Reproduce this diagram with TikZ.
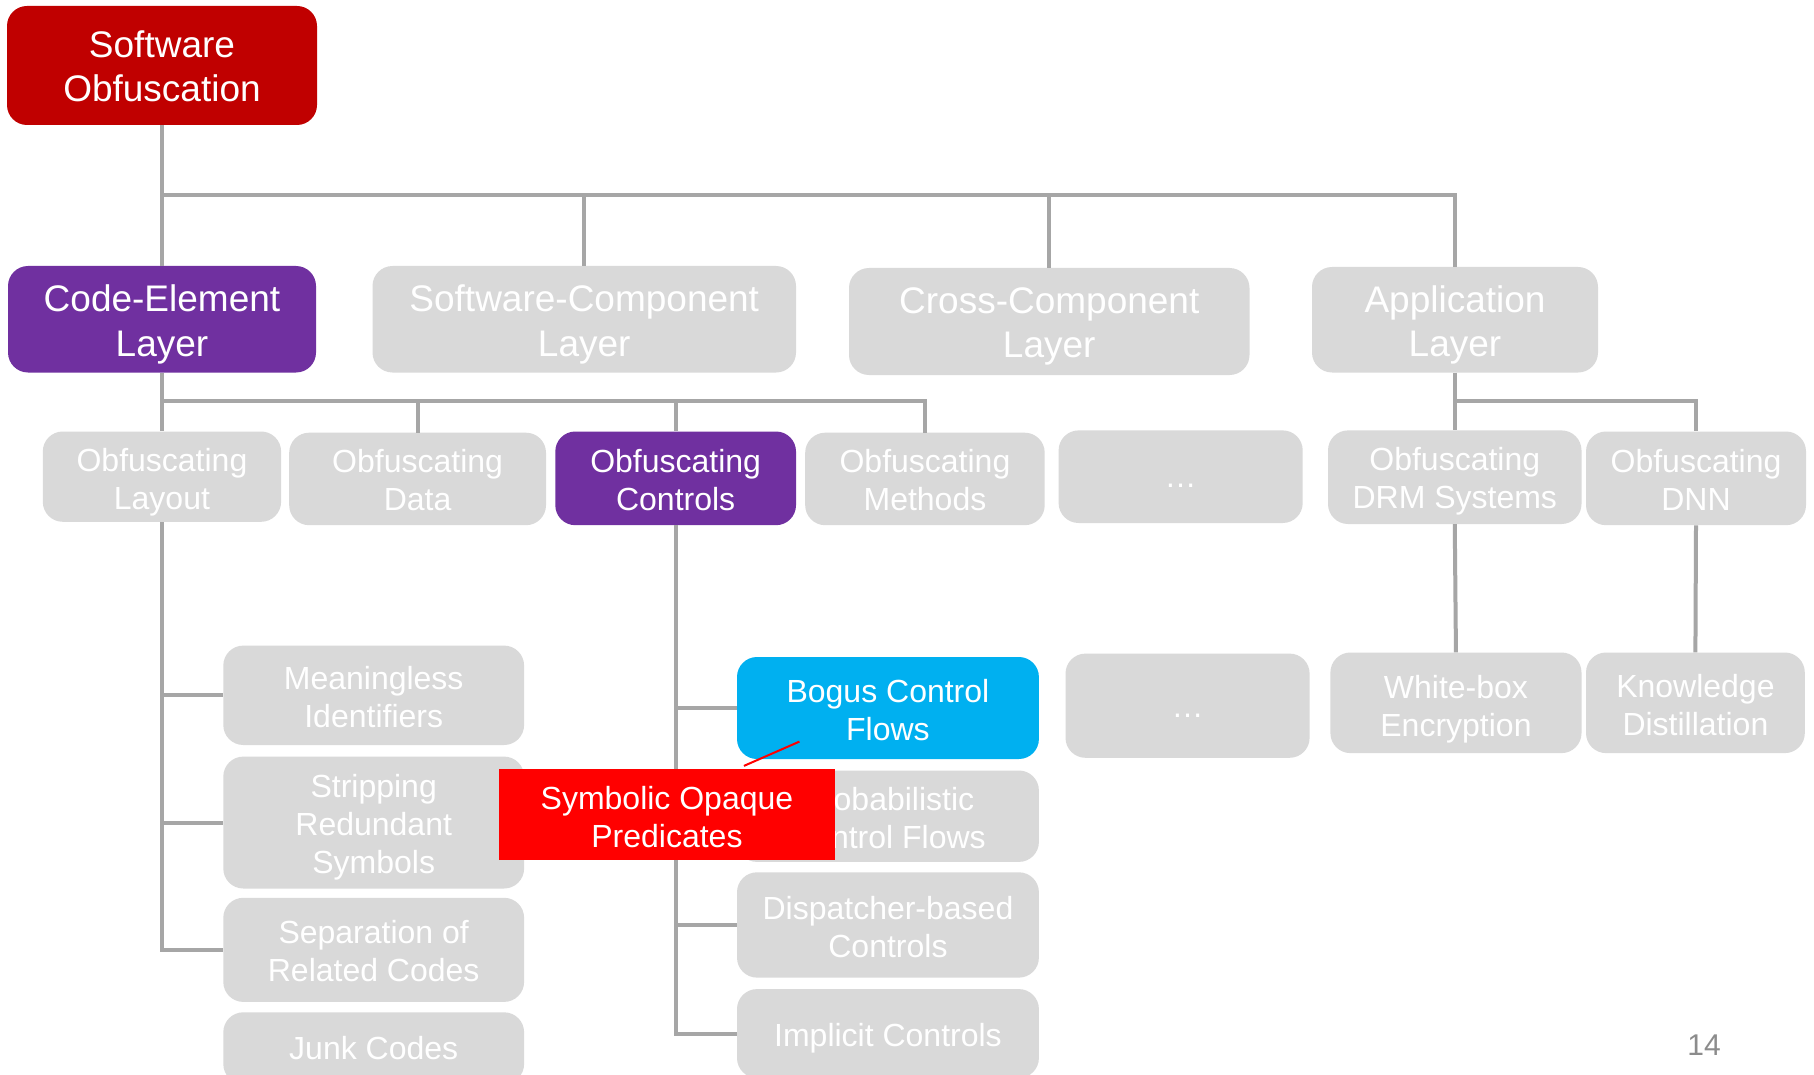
\documentclass[tikz,border=0pt]{standalone}
\usepackage{fontspec}
\setmainfont{Liberation Sans}
\definecolor{rootred}{HTML}{C00000}
\definecolor{purp}{HTML}{7030A0}
\definecolor{boxgray}{HTML}{D9D9D9}
\definecolor{linegray}{HTML}{A6A6A6}
\definecolor{cyanbox}{HTML}{00B0F0}
\definecolor{brightred}{HTML}{FF0000}
\definecolor{numgray}{HTML}{8C8C8C}
\tikzset{
  box/.style={rectangle, rounded corners=20pt, inner sep=0pt, fill=boxgray},
  big/.style={font=\fontsize{37}{44.5}\selectfont},
  small/.style={font=\fontsize{32}{38}\selectfont},
  conn/.style={draw=linegray, line width=4pt},
}
\newcommand{\bx}[9]{% name, style, x1, y1, x2, y2, fontstyle, text shift, text
  \node[box, #2, minimum width={(#5)-(#3)}, minimum height={(#6)-(#4)},
    label={[#7, text=white, align=center, inner sep=0pt, yshift=-#8pt]center:{#9}}]
    (#1) at ({((#3)+(#5))/2},{((#4)+(#6))/2}) {};}
\begin{document}
\begin{tikzpicture}[x=1pt,y=-1pt]
\fill[white] (0,0) rectangle (1814,1075);
\useasboundingbox (0,0) rectangle (1814,1075);
\clip (0,0) rectangle (1814,1075);
\coordinate (b1) at (0,195.5);
\coordinate (b2) at (0,401.4);
% root
\bx{root}{fill=rootred}{7}{6}{317}{125}{big}{1}{Software\\Obfuscation}
% level 1
\bx{codeel}{fill=purp}{8}{266}{316}{372.5}{big}{5}{Code-Element\\Layer}
\bx{softcomp}{}{372.5}{266}{796}{372.5}{big}{5}{Software-Component\\Layer}
\bx{crosscomp}{}{849}{268}{1249.5}{375}{big}{5}{Cross-Component\\Layer}
\bx{app}{}{1312}{267}{1598}{372.5}{big}{5}{Application\\Layer}
% level 2
\bx{layout}{}{42.8}{431.5}{281.1}{521.8}{small}{6}{Obfuscating\\Layout}
\bx{data}{}{289.2}{432.7}{546}{525.2}{small}{1.5}{Obfuscating\\Data}
\bx{controls}{fill=purp}{555.3}{431.5}{796}{525.2}{small}{2}{Obfuscating\\Controls}
\bx{methods}{}{805.2}{432.7}{1044.7}{525.2}{small}{1.5}{Obfuscating\\Methods}
\bx{dotsA}{}{1058.6}{430.4}{1302.7}{523}{small}{9}{\dots}
\bx{drm}{}{1328}{430.4}{1581.5}{524}{small}{4}{Obfuscating\\DRM Systems}
\bx{dnn}{}{1586}{431.5}{1806}{525.2}{small}{2}{Obfuscating\\DNN}
% level 3 right
\bx{dotsB}{}{1065.5}{653.6}{1309.6}{757.8}{small}{10}{\dots}
\bx{whitebox}{}{1330.4}{652.5}{1581.5}{753.1}{small}{6}{White-box\\Encryption}
\bx{knowledge}{}{1586}{652.5}{1804.8}{753.1}{small}{2}{Knowledge\\Distillation}
% layout children
\bx{meaning}{}{223.3}{645.6}{524.1}{745}{small}{2}{Meaningless\\Identifiers}
\bx{strip}{}{223.3}{756.6}{524.1}{888.5}{small}{5}{Stripping\\Redundant\\Symbols}
\bx{separ}{}{223.3}{897.8}{524.1}{1001.9}{small}{1}{Separation of\\Related Codes}
\bx{junk}{}{223.3}{1012.3}{524.1}{1084}{small}{0}{Junk Codes}
% controls children
\bx{bogus}{fill=cyanbox}{737}{657}{1038.9}{759}{small}{2}{Bogus Control\\Flows}
\bx{prob}{}{737}{770.5}{1038.9}{861.9}{small}{2}{Probabilistic\\Control Flows}
\bx{disp}{}{737}{872.3}{1038.9}{977.6}{small}{2}{Dispatcher-based\\Controls}
\bx{impl}{}{737}{989.1}{1038.9}{1078}{small}{5}{Implicit Controls}
% connectors
\draw[conn] (root.south) -- (root.south |- b1) -| (app.north);
\draw[conn] (codeel.north |- b1) -- (codeel.north);
\draw[conn] (softcomp.north |- b1) -- (softcomp.north);
\draw[conn] (crosscomp.north |- b1) -- (crosscomp.north);
\draw[conn] (codeel.south) -- (codeel.south |- b2) -| (methods.north);
\draw[conn] (layout.north |- b2) -- (layout.north);
\draw[conn] (data.north |- b2) -- (data.north);
\draw[conn] (controls.north |- b2) -- (controls.north);
\draw[conn] (app.south) -- (app.south |- b2) -| (dnn.north);
\draw[conn] (drm.north |- b2) -- (drm.north);
\draw[conn] (drm.south) -- (whitebox.north);
\draw[conn] (dnn.south) -- (knowledge.north);
\draw[conn] (layout.south) |- (separ.west);
\draw[conn] (layout.south |- meaning.west) -- (meaning.west);
\draw[conn] (layout.south |- strip.west) -- (strip.west);
\draw[conn] (controls.south) |- (impl.west);
\draw[conn] (controls.south |- bogus.west) -- (bogus.west);
\draw[conn] (controls.south |- prob.west) -- (prob.west);
\draw[conn] (controls.south |- disp.west) -- (disp.west);
% callout
\bx{sop}{sharp corners, fill=brightred}{498.6}{769.3}{835.3}{859.6}{small}{3}{Symbolic Opaque\\Predicates}
\coordinate (cA) at (743.9,765.9);
\coordinate (cB) at (799.4,741.6);
\draw[brightred, line width=2pt] (cA) -- (cB);
% page number
\node[text=numgray, font=\fontsize{30}{36}\selectfont, inner sep=0pt] (pnum) at (1704,1044.7) {14};
\end{tikzpicture}
\end{document}
